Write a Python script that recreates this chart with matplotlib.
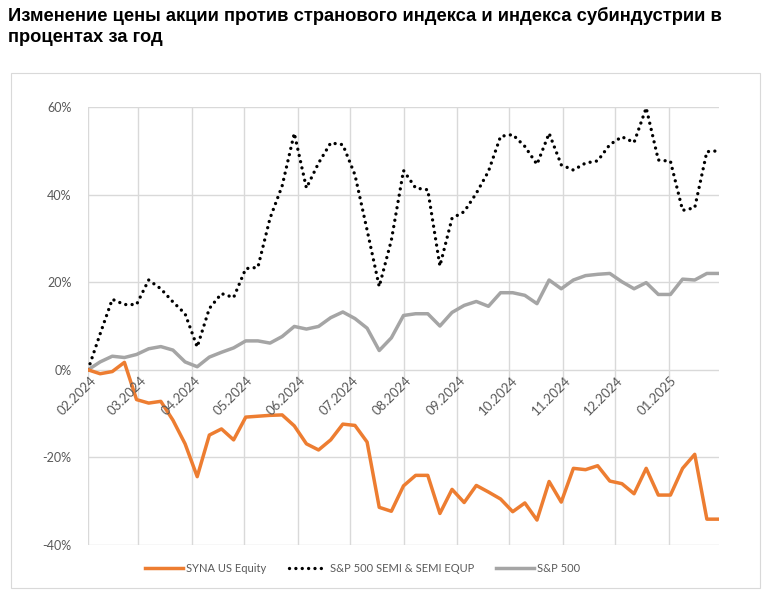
import matplotlib
matplotlib.use("Agg")
import matplotlib.pyplot as plt
from matplotlib.patches import Rectangle
from matplotlib.transforms import offset_copy
import pandas as pd

# ---------------- data ----------------
dates = ["2024-02-01", "2024-02-08", "2024-02-15", "2024-02-22", "2024-02-29",
         "2024-03-07", "2024-03-14", "2024-03-21", "2024-03-28",
         "2024-04-04", "2024-04-11", "2024-04-18", "2024-04-25",
         "2024-05-02", "2024-05-09", "2024-05-16", "2024-05-23", "2024-05-30",
         "2024-06-06", "2024-06-13", "2024-06-20", "2024-06-27",
         "2024-07-04", "2024-07-11", "2024-07-18", "2024-07-25",
         "2024-08-01", "2024-08-08", "2024-08-15", "2024-08-22", "2024-08-29",
         "2024-09-05", "2024-09-12", "2024-09-19", "2024-09-26",
         "2024-10-03", "2024-10-10", "2024-10-17", "2024-10-24", "2024-10-31",
         "2024-11-07", "2024-11-14", "2024-11-21", "2024-11-28",
         "2024-12-05", "2024-12-12", "2024-12-19", "2024-12-26",
         "2025-01-02", "2025-01-09", "2025-01-16", "2025-01-23", "2025-01-30"]

syna = [0.0, -0.9, -0.4, 1.7, -6.8, -7.6, -7.2, -11.5, -16.9, -24.4,
        -14.9, -13.5, -16.0, -10.8, -10.6, -10.4, -10.3, -12.8, -16.9, -18.3,
        -16.0, -12.4, -12.7, -16.5, -31.4, -32.3, -26.5, -24.1, -24.1, -32.8,
        -27.3, -30.3, -26.4, -27.9, -29.5, -32.4, -30.4, -34.3, -25.5, -30.2,
        -22.5, -22.8, -21.9, -25.4, -26.0, -28.3, -22.5, -28.6, -28.6, -22.5,
        -19.3, -34.1, -34.1]

semi = [0.0, 8.2, 16.1, 14.9, 14.9, 20.5, 18.5, 15.5, 12.8, 5.2,
        14.0, 17.4, 16.5, 23.1, 23.4, 34.6, 42.0, 54.0, 41.5, 47.2,
        51.8, 51.4, 44.5, 31.9, 19.0, 29.6, 45.5, 41.5, 41.1, 23.7,
        34.6, 36.1, 40.3, 45.3, 53.3, 53.7, 51.0, 46.9, 54.0, 46.8,
        45.6, 47.2, 47.7, 51.4, 53.2, 51.9, 59.8, 47.9, 47.6, 36.4,
        37.0, 49.8, 50.0]

spx = [0.0, 1.8, 3.1, 2.8, 3.5, 4.8, 5.3, 4.5, 1.8, 0.7,
       2.9, 4.0, 5.0, 6.6, 6.6, 6.1, 7.6, 9.9, 9.3, 9.9,
       11.9, 13.2, 11.7, 9.5, 4.4, 7.3, 12.4, 12.8, 12.8, 10.0,
       13.1, 14.7, 15.6, 14.5, 17.6, 17.6, 17.0, 15.1, 20.5, 18.5,
       20.5, 21.5, 21.8, 22.0, 20.1, 18.5, 19.9, 17.2, 17.2, 20.7,
       20.5, 22.0, 22.0]

month_ticks = ["2024-02-01", "2024-03-01", "2024-04-01", "2024-05-01", "2024-06-01",
               "2024-07-01", "2024-08-01", "2024-09-01", "2024-10-01", "2024-11-01",
               "2024-12-01", "2025-01-01"]
month_labels = ["02.2024", "03.2024", "04.2024", "05.2024", "06.2024", "07.2024",
                "08.2024", "09.2024", "10.2024", "11.2024", "12.2024", "01.2025"]

y_ticks = [-40, -20, 0, 20, 40, 60]

series_names = ["SYNA US Equity", "S&P 500 SEMI & SEMI EQUP", "S&P 500"]
title = ("Изменение цены акции против странового индекса и индекса субиндустрии в\n"
         "процентах за год")

# ---------------- figure ----------------
W, H = 762, 600
fig = plt.figure(figsize=(W / 100, H / 100), dpi=100)

# chart frame
fig.add_artist(Rectangle((11 / W, 1 - 588 / H), (760 - 11) / W, (588 - 73) / H,
                         transform=fig.transFigure, fill=False,
                         edgecolor="#d9d9d9", linewidth=0.8))

left, right, top, bottom = 88, 719, 107, 545
ax = fig.add_axes([left / W, 1 - bottom / H, (right - left) / W, (bottom - top) / H])

x = pd.to_datetime(dates)
grid_c = "#d9d9d9"
txt_c = "#595959"
tick_font = ["Lato", "DejaVu Sans"]

ax.plot(x, spx, color="#a5a5a5", lw=2.5, solid_joinstyle="round", zorder=3,
        label=series_names[2])
ax.plot(x, semi, color="black", lw=2.4, linestyle=(0, (0.01, 1.9)),
        dash_capstyle="round", zorder=4, label=series_names[1])
ax.plot(x, syna, color="#ed7d31", lw=2.5, solid_joinstyle="round", zorder=5,
        label=series_names[0])

ax.set_xlim(pd.Timestamp(dates[0]), pd.Timestamp(dates[-1]))
ax.set_ylim(-40, 60)

ax.set_yticks(y_ticks)
ax.set_yticklabels([f"{v}%" for v in y_ticks], family=tick_font, fontsize=9, color=txt_c)
mt = pd.to_datetime(month_ticks)
ax.set_xticks(mt)
ax.set_xticklabels([])

for s in ax.spines.values():
    s.set_visible(False)
ax.tick_params(axis="both", length=0)
ax.tick_params(axis="y", pad=12)

ax.grid(True, color=grid_c, lw=1.0, zorder=0)
ax.set_axisbelow(True)

# month labels hanging below the 0% line, rotated 45 degrees
lab_tr = offset_copy(ax.transData, fig=fig, x=2, y=-4, units="dots")
for d, lab in zip(mt, month_labels):
    ax.text(d, 0, lab, transform=lab_tr, rotation=45, rotation_mode="anchor",
            ha="right", va="top", family=tick_font, fontsize=9.5, color=txt_c,
            clip_on=False, zorder=6)

# legend
handles, labels = ax.get_legend_handles_labels()
order = [2, 1, 0]
fig.legend([handles[i] for i in order], [labels[i] for i in order],
           loc="center", bbox_to_anchor=(0.476, 1 - 568 / H), ncol=3, frameon=False,
           prop={"family": tick_font, "size": 8}, labelcolor=txt_c,
           handlelength=3.4, handletextpad=0.3, columnspacing=2.0)

fig.text(8 / W, 1 - 7 / H, title, ha="left", va="top", fontsize=13.2,
         fontweight="bold", family=["Liberation Sans", "DejaVu Sans"],
         color="black", linespacing=1.3)

fig.savefig("out.png", dpi=100)
